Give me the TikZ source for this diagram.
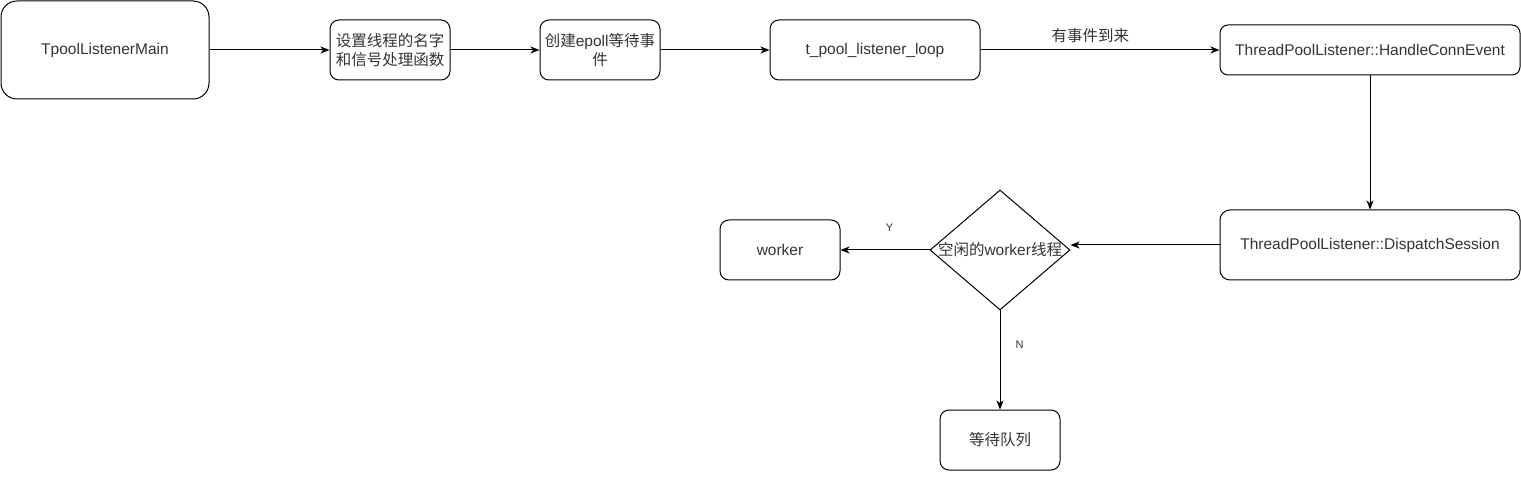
\documentclass[tikz,border=0pt]{standalone}
\usepackage{fontspec}
\setmainfont{Liberation Sans}
\newfontfamily\cjkfont{Noto Sans CJK SC}
\newcommand{\zhtext}[1]{{\cjkfont #1}}
\usetikzlibrary{shapes.geometric,arrows.meta}
\definecolor{textgray}{HTML}{333333}
\tikzset{
  base/.style={draw=black, line width=1pt, inner sep=0pt, align=center, text=textgray,
    font=\fontsize{15.5}{19}\selectfont},
  rbox/.style={base, rounded corners=#1},
  conn/.style={line width=1pt, -{Stealth[length=9pt,width=7pt,inset=2.5pt]}},
  elabel/.style={text=textgray, inner sep=0pt, font=\fontsize{11}{13}\selectfont},
  clabel/.style={text=textgray, inner sep=0pt, font=\fontsize{15.5}{19}\selectfont},
}
\begin{document}
\begin{tikzpicture}[x=1pt,y=-1pt]
\useasboundingbox (0,0) rectangle (1521,478);
\node[rbox=16pt, minimum width=208pt, minimum height=98pt] (main) at (105,50) {TpoolListenerMain};
\node[rbox=9pt, minimum width=120pt, minimum height=60pt] (setn) at (390,50) {\zhtext{设置线程的名字}\\\zhtext{和信号处理函数}};
\node[rbox=9pt, minimum width=120pt, minimum height=60pt] (epoll) at (600,50) {\zhtext{创建}epoll\zhtext{等待事}\\\zhtext{件}};
\node[rbox=9pt, minimum width=210pt, minimum height=60pt] (loop) at (875,50) {t\_pool\_listener\_loop};
\node[rbox=8pt, minimum width=300pt, minimum height=50pt] (hce) at (1370,50) {ThreadPoolListener::HandleConnEvent};
\node[rbox=10pt, minimum width=300pt, minimum height=70pt] (ds) at (1370,245) {ThreadPoolListener::DispatchSession};
\node[draw=black, line width=1pt, diamond, inner sep=0pt, minimum width=140pt, minimum height=120pt,
  label={[clabel]center:\zhtext{空闲的}worker\zhtext{线程}}] (dia) at (1000,250) {};
\node[rbox=9pt, minimum width=120pt, minimum height=60pt] (worker) at (780,250) {worker};
\node[rbox=9pt, minimum width=120pt, minimum height=60pt] (queue) at (1000,440) {\zhtext{等待队列}};

\draw[conn] (main.east) -- (setn.west);
\draw[conn] (setn.east) -- (epoll.west);
\draw[conn] (epoll.east) -- (loop.west);
\draw[conn] (loop.east) -- node[clabel, pos=0.46, above=7pt] {\zhtext{有事件到来}} (hce.west);
\draw[conn] (hce.south) -- (ds.north);
\draw[conn] (ds.west) -- (ds.west -| dia.east);
\draw[conn] (dia.west) -- node[elabel, pos=0.45, above=18pt] {Y} (worker.east);
\draw[conn] (dia.south) -- node[elabel, pos=0.35, right=15pt] {N} (queue.north);
\end{tikzpicture}
\end{document}
